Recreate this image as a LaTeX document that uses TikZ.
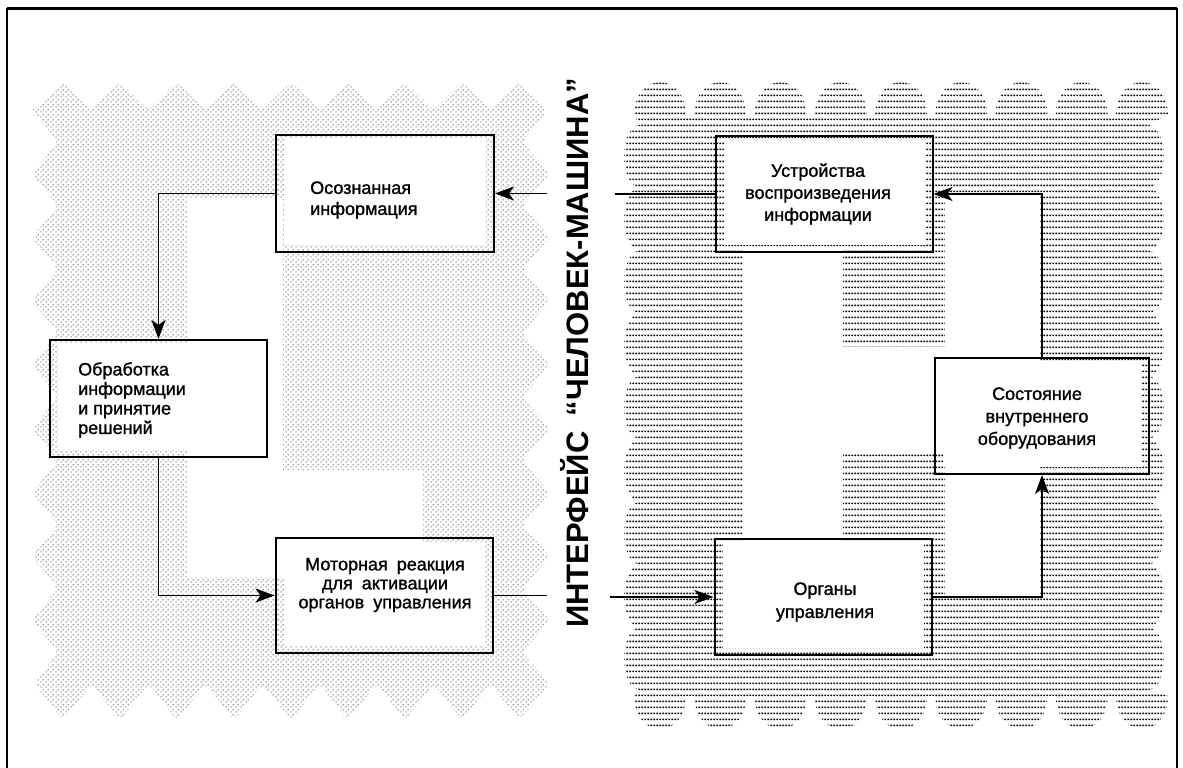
\documentclass[tikz,border=0pt]{standalone}
\usepackage{fontspec}
\setmainfont{Liberation Sans}
\newfontfamily\boxfont{Liberation Sans}[FakeBold=1.2]
\usetikzlibrary{patterns,arrows.meta}

% sparse stipple for the operator side
\pgfdeclarepatternformonly{stipple}{\pgfqpoint{0pt}{0pt}}{\pgfqpoint{5pt}{5pt}}{\pgfqpoint{5pt}{5pt}}{%
  \pgfpathcircle{\pgfqpoint{1.25pt}{1.25pt}}{0.65pt}%
  \pgfpathcircle{\pgfqpoint{3.75pt}{3.75pt}}{0.65pt}%
  \pgfusepath{fill}}
% rows of short dashes for the machine side
\pgfdeclarepatternformonly{rowhatch}{\pgfqpoint{0pt}{0pt}}{\pgfqpoint{3.3pt}{5.6pt}}{\pgfqpoint{3.3pt}{5.6pt}}{%
  \pgfpathrectangle{\pgfqpoint{0.4pt}{2pt}}{\pgfqpoint{2.1pt}{1.5pt}}%
  \pgfusepath{fill}}

\begin{document}
\begin{tikzpicture}[x=1pt,y=-1pt,
  blk/.style={draw, line width=2pt, inner sep=0pt,
    minimum width=217pt, minimum height=116pt,
    path picture={\fill[white]
      ([shift={(8pt,7pt)}]path picture bounding box.south west) rectangle
      ([shift={(-8pt,-4pt)}]path picture bounding box.north east);}},
  lbl/.style={font={\boxfont\fontsize{18pt}{#1}\selectfont}, inner sep=0pt},
  lbl/.default=21pt,
  conn/.style={line width=1.6pt},
  arr/.style={conn, -{Stealth[length=19pt,width=14pt,inset=5pt]}},
]
\useasboundingbox (0,0) rectangle (1183,768);
\clip (0,0) rectangle (1183,768);

% outer frame (its lower edge lies below the page)
\draw[line width=2pt] (7,790) -- (7,9) -- (1177,9) -- (1177,790);
\draw[line width=3pt] (7,9) -- (1177,9);

% operator side: toothed stipple area
\fill[pattern=stipple, rounded corners=5pt] (34.5,110)
  \foreach \i in {0,...,8} { -- ({63+57*\i},82) -- ({91.5+57*\i},110) }
  \foreach \k in {0,...,8} { -- (522,{141.9+63.78*\k}) -- (550,{173.78+63.78*\k}) }
  \foreach \i in {8,7,...,0} { -- ({63+57*\i},720) -- ({34.5+57*\i},684) }
  \foreach \k in {0,...,8} { -- (58,{652.1-63.78*\k}) -- (32,{620.2-63.78*\k}) }
  -- cycle;
\fill[white] (187,199) -- (283,199) -- (283,470) -- (423,470) -- (423,577) -- (187,577) -- cycle;

% machine side: scalloped hatched area
\fill[pattern=rowhatch] (640,125) -- (634,115)
  \foreach \i in {0,...,8} { -- ({634+60.25*\i},115) .. controls +(1,-44) and +(-1,-44) .. ({686+60.25*\i},115) }
  -- (1148,125)
  \foreach \k in {0,...,8} { .. controls +(21,1) and +(21,-1) .. (1148,{125+62.78*(\k+1)}) }
  \foreach \i in {8,7,...,0} { -- ({686+60.25*\i},696) .. controls +(-1,44) and +(1,44) .. ({634+60.25*\i},696) }
  -- (640,690)
  \foreach \k in {0,...,8} { .. controls +(-21,-1) and +(-21,1) .. (640,{690-62.78*(\k+1)}) }
  -- cycle;
\fill[white] (945,196) -- (1040,196) -- (1040,596) -- (945,596) -- (945,452) -- (843,452)
  -- (843,541) -- (743,541) -- (743,250) -- (843,250) -- (843,347) -- (945,347) -- cycle;

% blocks
\node[blk, minimum width=218pt, minimum height=117pt] (A) at (385,193.5) {};
\node[blk, minimum height=117pt] (B) at (158.5,398.5) {};
\node[blk, minimum height=115pt] (C) at (384,595.5) {};
\node[blk] (D) at (824,194) {};
\node[blk, minimum width=214pt] (E) at (1042,416) {};
\node[blk] (F) at (823,597) {};

% block texts
\node[lbl, align=left, anchor=west] (At) at (310,200) {Осознанная\\информация};
\node[lbl=19.5pt, align=left, anchor=west] (Bt) at (78,400) {Обработка\\информации\\и принятие\\решений};
\node[lbl=19pt, align=center] (Ct) at (385,585) {Моторная\enspace реакция\\для\enspace активации\\органов\enspace управления};
\node[lbl=22pt, align=center] (Dt) at (818,194) {Устройства\\воспроизведения\\информации};
\node[lbl=22.5pt, align=center] (Et) at (1037,418) {Состояние\\внутреннего\\оборудования};
\node[lbl=23pt, align=center] (Ft) at (825,602) {Органы\\управления};

% interface title
\node[rotate=90, inner sep=0pt, font=\bfseries\fontsize{31pt}{31pt}\selectfont] (title) at (575,353)
  {ИНТЕРФЕЙС\enspace “ЧЕЛОВЕК-МАШИНА”};

% connectors
\coordinate (inA) at (547,193.5);
\coordinate (outC) at (547,595.5);
\coordinate (inD) at (615,194);
\coordinate (inF) at (610,597);
\draw[arr] (inA) -- (A.east);
\draw[arr] (A.west) -| (B.north);
\draw[arr] (B.south) |- (C.west);
\draw[conn] (C.east) -- (outC);
\draw[conn] (inD) -- (D.west);
\draw[arr] (E.north) |- (D.east);
\draw[arr] (F.east) -| (E.south);
\draw[arr] (inF) -- (F.west);
\end{tikzpicture}
\end{document}
